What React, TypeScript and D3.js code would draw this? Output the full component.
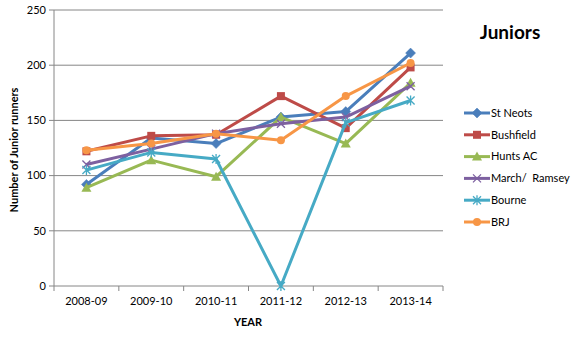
import React from "react";
import * as d3 from "d3";

const categories = ["2008-09", "2009-10", "2010-11", "2011-12", "2012-13", "2013-14"];
const seriesNames = ["St Neots", "Bushfield", "Hunts AC", "March/  Ramsey", "Bourne", "BRJ"];
const stNeots = [92, 134, 129, 153, 158, 211];
const bushfield = [122, 136, 137, 172, 143, 198];
const huntsAC = [89, 114, 99, 153, 129, 184];
const marchRamsey = [110, 124, 138, 147, 153, 181];
const bourne = [105, 121, 115, 0, 148, 168];
const brj = [123, 129, 138, 132, 172, 202];
const yTicks = [0, 50, 100, 150, 200, 250];
const colors = ["#4a7ebb", "#be4b48", "#98b954", "#7d60a0", "#46aac5", "#f79646"];
const markers = ["diamond", "square", "triangle", "x", "star", "circle"];
const allSeries = [stNeots, bushfield, huntsAC, marchRamsey, bourne, brj];

const FONT = "Lato, 'Open Sans', sans-serif";

function Marker({ type, x, y, color }: { type: string; x: number; y: number; color: string }) {
  const s = 4;
  if (type === "diamond")
    return <path d={`M${x},${y - s - 1}L${x + s + 1},${y}L${x},${y + s + 1}L${x - s - 1},${y}Z`} fill={color} stroke={color} strokeWidth={0.5} />;
  if (type === "square") return <rect x={x - s} y={y - s} width={2 * s} height={2 * s} fill={color} />;
  if (type === "triangle")
    return <path d={`M${x},${y - s - 1}L${x + s + 1},${y + s}L${x - s - 1},${y + s}Z`} fill={color} />;
  if (type === "circle") return <circle cx={x} cy={y} r={s} fill={color} />;
  if (type === "x")
    return <path d={`M${x - s},${y - s}L${x + s},${y + s}M${x - s},${y + s}L${x + s},${y - s}`} stroke={color} strokeWidth={1.3} />;
  return (
    <path
      d={`M${x - s},${y - s}L${x + s},${y + s}M${x - s},${y + s}L${x + s},${y - s}M${x},${y - s - 1}L${x},${y + s + 1}`}
      stroke={color}
      strokeWidth={1.3}
    />
  );
}

export default function App() {
  const W = 583, H = 337;
  const left = 54, right = 443, top = 10, bottom = 286;
  const x = d3.scaleBand().domain(categories).range([left, right]);
  const y = d3.scaleLinear().domain([0, 250]).range([bottom, top]);
  const cx = (c: string) => (x(c) as number) + x.bandwidth() / 2;
  const line = d3
    .line<number>()
    .x((_, i) => cx(categories[i]))
    .y((d) => y(d));
  const tickXs = [left, ...categories.map((c) => (x(c) as number) + x.bandwidth())];

  return (
    <svg width={W} height={H} style={{ position: "absolute", left: 0, top: 0, background: "#fff" }} fontFamily={FONT}>
      {yTicks.map((t) => (
        <g key={t}>
          {t > 0 && <line x1={left} x2={right} y1={y(t)} y2={y(t)} stroke="#868686" strokeWidth={1} />}
          <line x1={left - 5} x2={left} y1={y(t)} y2={y(t)} stroke="#868686" />
          <text x={left - 8} y={y(t)} dy="0.35em" textAnchor="end" fontSize={11} fill="#000">
            {t}
          </text>
        </g>
      ))}
      <line x1={left} x2={left} y1={top} y2={bottom} stroke="#868686" />
      <line x1={left} x2={right} y1={bottom} y2={bottom} stroke="#868686" />
      {tickXs.map((tx, i) => (
        <line key={i} x1={tx} x2={tx} y1={bottom} y2={bottom + 5} stroke="#868686" />
      ))}
      {categories.map((c) => (
        <text key={c} x={cx(c)} y={bottom + 19} textAnchor="middle" fontSize={11} fill="#000">
          {c}
        </text>
      ))}
      <text x={248} y={326} textAnchor="middle" fontSize={11} fontWeight="bold">
        YEAR
      </text>
      <text
        transform={`translate(18,${150}) rotate(-90)`}
        textAnchor="middle"
        fontSize={11}
        fontWeight="bold"
      >
        Number of Junior runners
      </text>
      {allSeries.map((s, si) => (
        <g key={si}>
          <path d={line(s) as string} fill="none" stroke={colors[si]} strokeWidth={3} strokeLinejoin="round" />
          {s.map((v, i) => (
            <Marker key={i} type={markers[si]} x={cx(categories[i])} y={y(v)} color={colors[si]} />
          ))}
        </g>
      ))}
      <text x={510} y={39} textAnchor="middle" fontSize={19} fontWeight="bold">
        Juniors
      </text>
      {seriesNames.map((n, i) => {
        const ly = 113 + i * 21.8;
        return (
          <g key={n}>
            <line x1={464} x2={490} y1={ly} y2={ly} stroke={colors[i]} strokeWidth={3} />
            <Marker type={markers[i]} x={477} y={ly} color={colors[i]} />
            <text x={491} y={ly} dy="0.35em" fontSize={11} xmlSpace="preserve">
              {n}
            </text>
          </g>
        );
      })}
    </svg>
  );
}
